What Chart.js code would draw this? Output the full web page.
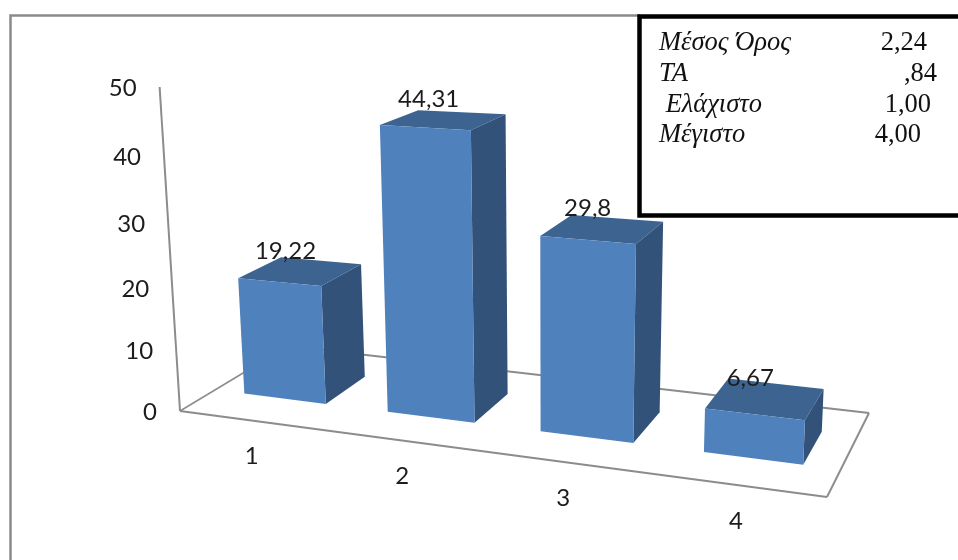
<!DOCTYPE html>
<html>
<head>
<meta charset="utf-8">
<title>Chart</title>
<style>
  html, body { margin: 0; padding: 0; background: #fff; }
  canvas { display: block; }
</style>
<script src="https://cdn.jsdelivr.net/npm/chart.js@4"></script>
</head>
<body>
<canvas id="myChart" width="958" height="560"></canvas>
<script>
var categories = ['1', '2', '3', '4'];
var percentages = [19.22, 44.31, 29.8, 6.67];

var statNames = ['Μέσος Όρος', 'ΤΑ', ' Ελάχιστο', 'Μέγιστο'];
var statValues = ['2,24', ',84', '1,00', '4,00'];

var FRONT = '#4f81bd', TOP = '#3d6491', SIDE = '#325279';
var AXIS = '#8c8c8c', TEXT = '#1c1c1c';

// screen corners of the floor: front left, front right, back right, back left
var floorQuad = [[180, 411], [827, 497], [869, 413], [288, 346]];
// bars stand between these depths on the floor
var depthFront = 0.3, depthBack = 0.7;

// unit square -> quad homography
function quadMap(q) {
    var dx1 = q[1][0] - q[2][0], dx2 = q[3][0] - q[2][0], sx = q[0][0] - q[1][0] + q[2][0] - q[3][0];
    var dy1 = q[1][1] - q[2][1], dy2 = q[3][1] - q[2][1], sy = q[0][1] - q[1][1] + q[2][1] - q[3][1];
    var den = dx1 * dy2 - dx2 * dy1;
    var g = (sx * dy2 - dx2 * sy) / den;
    var h = (dx1 * sy - sx * dy1) / den;
    var a = q[1][0] - q[0][0] + g * q[1][0], b = q[3][0] - q[0][0] + h * q[3][0];
    var d = q[1][1] - q[0][1] + g * q[1][1], e = q[3][1] - q[0][1] + h * q[3][1];
    return function (u, w) {
        var k = g * u + h * w + 1;
        return [(a * u + b * w + q[0][0]) / k, (d * u + e * w + q[0][1]) / k];
    };
}
var floorAt = quadMap(floorQuad);

// u, v, w are fractions of the plot width, plot height and depth
function project(u, v, w) {
    var p = floorAt(u, w);
    var rise = v / (1.08 - 0.08 * v);               // taller values open up slightly
    var wallHeight = 324 + 46 * u - 37.5 * w;       // nearer walls are taller
    var lean = (p[0] - 550) * 0.055;                // verticals fan out from below
    return [p[0] + lean * rise, p[1] - wallHeight * rise];
}

function poly(ctx, pts, color) {
    ctx.beginPath();
    pts.forEach(function (p, i) { i ? ctx.lineTo(p[0], p[1]) : ctx.moveTo(p[0], p[1]); });
    ctx.closePath();
    ctx.fillStyle = color;
    ctx.fill();
}

function line(ctx, a, b, color, width) {
    ctx.beginPath();
    ctx.moveTo(a[0], a[1]);
    ctx.lineTo(b[0], b[1]);
    ctx.strokeStyle = color;
    ctx.lineWidth = width;
    ctx.stroke();
}

var boxes3d = {
    id: 'boxes3d',
    beforeDatasetsDraw: function (chart) {
        var ctx = chart.ctx;
        ctx.save();
        // outer frame, open at the bottom
        ctx.strokeStyle = '#8a8a8a';
        ctx.lineWidth = 2.5;
        ctx.beginPath();
        ctx.moveTo(10.5, 560);
        ctx.lineTo(10.5, 15.5);
        ctx.lineTo(640, 15.5);
        ctx.stroke();
        // floor and value axis
        line(ctx, project(0, 0, 0), project(0, 1, 0), AXIS, 2);
        line(ctx, project(0, 0, 1), project(0, 0, 0), AXIS, 1.5);
        line(ctx, project(0, 0, 0), project(1, 0, 0), AXIS, 2);
        line(ctx, project(1, 0, 0), project(1, 0, 1), AXIS, 2);
        line(ctx, project(1, 0, 1), project(0, 0, 1), AXIS, 2);
        ctx.restore();
    },
    afterDatasetsDraw: function (chart) {
        var ctx = chart.ctx, area = chart.chartArea;
        var xs = chart.scales.x, ys = chart.scales.y;
        var U = function (px) { return (px - area.left) / area.width; };
        var V = function (py) { return (area.bottom - py) / area.height; };

        ctx.save();
        chart.getDatasetMeta(0).data.forEach(function (bar) {
            var props = bar.getProps(['x', 'y', 'base', 'width'], true);
            var u0 = U(props.x - props.width / 2), u1 = U(props.x + props.width / 2);
            var v0 = V(props.base), v1 = V(props.y);
            var w0 = depthFront, w1 = depthBack;
            poly(ctx, [project(u0, v1, w0), project(u1, v1, w0), project(u1, v1, w1), project(u0, v1, w1)], TOP);
            poly(ctx, [project(u1, v0, w0), project(u1, v1, w0), project(u1, v1, w1), project(u1, v0, w1)], SIDE);
            poly(ctx, [project(u0, v0, w0), project(u1, v0, w0), project(u1, v1, w0), project(u0, v1, w0)], FRONT);
        });

        ctx.fillStyle = TEXT;
        ctx.font = '24px Lato';
        ctx.textBaseline = 'middle';

        // value axis labels follow the leaning axis
        ctx.textAlign = 'right';
        ys.ticks.forEach(function (tick) {
            var p = project(0, V(ys.getPixelForValue(tick.value)), 0);
            ctx.fillText(String(tick.value), p[0] - 23, p[1] + 1.5);
        });

        // category labels sit under the front edge of the floor
        ctx.textAlign = 'center';
        categories.forEach(function (c, i) {
            var p = project(U(xs.getPixelForValue(i)), 0, 0);
            ctx.fillText(c, p[0], p[1] + 36);
        });

        // value labels over the top face of each bar
        chart.getDatasetMeta(0).data.forEach(function (bar, i) {
            var props = bar.getProps(['x', 'y'], true);
            var p = project(U(props.x), V(props.y), (depthFront + depthBack) / 2);
            ctx.fillText(String(percentages[i]).replace('.', ','), p[0] - 15, p[1] - 20);
        });

        // statistics box, cut off by the right edge
        ctx.fillStyle = '#fff';
        ctx.fillRect(640, 16, 318, 199);
        ctx.strokeStyle = '#000';
        ctx.lineWidth = 4.5;
        ctx.beginPath();
        ctx.moveTo(958, 16.5);
        ctx.lineTo(639.5, 16.5);
        ctx.lineTo(639.5, 215.5);
        ctx.lineTo(958, 215.5);
        ctx.stroke();

        var rowY = [50, 81, 112, 142];
        var valueRight = [927, 937, 931, 921];
        ctx.fillStyle = '#111';
        ctx.textBaseline = 'alphabetic';
        statNames.forEach(function (name, i) {
            ctx.textAlign = 'left';
            ctx.font = 'italic 26.5px "Liberation Serif"';
            ctx.fillText(name, 659, rowY[i]);
            ctx.textAlign = 'right';
            ctx.font = '26.5px "Liberation Serif"';
            ctx.fillText(statValues[i], valueRight[i], rowY[i]);
        });
        ctx.restore();
    }
};

new Chart(document.getElementById('myChart'), {
    type: 'bar',
    data: {
        labels: categories,
        datasets: [{
            data: percentages,
            backgroundColor: 'rgba(0,0,0,0)',
            barPercentage: 0.576,
            categoryPercentage: 1
        }]
    },
    options: {
        responsive: false,
        animation: false,
        plugins: { legend: { display: false }, tooltip: { enabled: false } },
        scales: {
            x: { display: false },
            y: { display: false, min: 0, max: 50, ticks: { stepSize: 10 } }
        }
    },
    plugins: [boxes3d]
});
</script>
</body>
</html>
